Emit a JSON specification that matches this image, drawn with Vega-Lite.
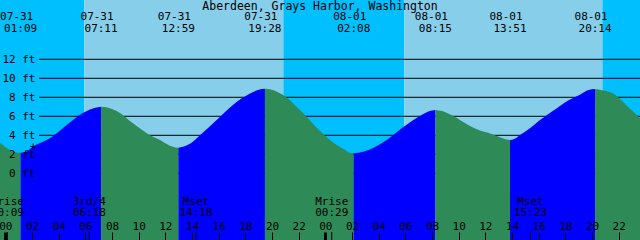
{
  "$schema": "https://vega.github.io/schema/vega-lite/v6.json",
  "width": 640,
  "height": 240,
  "autosize": {"type": "none"},
  "padding": 0,
  "background": "#ffffff",
  "config": {
    "view": {"stroke": null},
    "text": {"font": "DejaVu Sans Mono", "fontSize": 11, "color": "#000000", "baseline": "middle"},
    "axis": {"labelFont": "DejaVu Sans Mono", "labelFontSize": 11, "labelColor": "#000000", "labelOverlap": false, "labelBound": false, "labelFlush": false}
  },
  "datasets": {
    "sky": [
      {"start": -1, "end": 5.92, "sky": "night"},
      {"start": 5.92, "end": 20.85, "sky": "day"},
      {"start": 20.85, "end": 29.93, "sky": "night"},
      {"start": 29.93, "end": 44.78, "sky": "day"},
      {"start": 44.78, "end": 49, "sky": "night"}
    ],
    "levels": [{"ft": 0}, {"ft": 2}, {"ft": 4}, {"ft": 6}, {"ft": 8}, {"ft": 10}, {"ft": 12}],
    "tide": [
      {"t": -0.67, "ft": 3.45, "seg": 1, "dir": "fall"},
      {"t": -0.4, "ft": 3.2, "seg": 1, "dir": "fall"},
      {"t": 0.35, "ft": 2.45, "seg": 1, "dir": "fall"},
      {"t": 0.83, "ft": 2.2, "seg": 1, "dir": "fall"},
      {"t": 1.15, "ft": 2.17, "seg": 1, "dir": "fall"},
      {"t": 1.15, "ft": 2.17, "seg": 2, "dir": "rise"},
      {"t": 1.5, "ft": 2.25, "seg": 2, "dir": "rise"},
      {"t": 2.07, "ft": 2.8, "seg": 2, "dir": "rise"},
      {"t": 3.35, "ft": 3.68, "seg": 2, "dir": "rise"},
      {"t": 4.6, "ft": 5.08, "seg": 2, "dir": "rise"},
      {"t": 5.85, "ft": 6.38, "seg": 2, "dir": "rise"},
      {"t": 6.75, "ft": 6.9, "seg": 2, "dir": "rise"},
      {"t": 7.18, "ft": 7.0, "seg": 2, "dir": "rise"},
      {"t": 7.18, "ft": 7.0, "seg": 3, "dir": "fall"},
      {"t": 7.67, "ft": 6.92, "seg": 3, "dir": "fall"},
      {"t": 8.35, "ft": 6.56, "seg": 3, "dir": "fall"},
      {"t": 9.58, "ft": 5.26, "seg": 3, "dir": "fall"},
      {"t": 10.85, "ft": 4.0, "seg": 3, "dir": "fall"},
      {"t": 11.6, "ft": 3.5, "seg": 3, "dir": "fall"},
      {"t": 12.35, "ft": 2.9, "seg": 3, "dir": "fall"},
      {"t": 12.75, "ft": 2.72, "seg": 3, "dir": "fall"},
      {"t": 12.98, "ft": 2.7, "seg": 3, "dir": "fall"},
      {"t": 12.98, "ft": 2.7, "seg": 4, "dir": "rise"},
      {"t": 13.33, "ft": 2.8, "seg": 4, "dir": "rise"},
      {"t": 13.85, "ft": 3.1, "seg": 4, "dir": "rise"},
      {"t": 14.6, "ft": 4.0, "seg": 4, "dir": "rise"},
      {"t": 15.85, "ft": 5.6, "seg": 4, "dir": "rise"},
      {"t": 17.07, "ft": 7.2, "seg": 4, "dir": "rise"},
      {"t": 18.35, "ft": 8.4, "seg": 4, "dir": "rise"},
      {"t": 19.0, "ft": 8.8, "seg": 4, "dir": "rise"},
      {"t": 19.47, "ft": 8.9, "seg": 4, "dir": "rise"},
      {"t": 19.47, "ft": 8.9, "seg": 5, "dir": "fall"},
      {"t": 20.0, "ft": 8.8, "seg": 5, "dir": "fall"},
      {"t": 20.83, "ft": 8.24, "seg": 5, "dir": "fall"},
      {"t": 22.1, "ft": 6.66, "seg": 5, "dir": "fall"},
      {"t": 23.6, "ft": 4.45, "seg": 5, "dir": "fall"},
      {"t": 24.85, "ft": 2.98, "seg": 5, "dir": "fall"},
      {"t": 25.5, "ft": 2.45, "seg": 5, "dir": "fall"},
      {"t": 25.83, "ft": 2.15, "seg": 5, "dir": "fall"},
      {"t": 26.13, "ft": 2.1, "seg": 5, "dir": "fall"},
      {"t": 26.13, "ft": 2.1, "seg": 6, "dir": "rise"},
      {"t": 26.5, "ft": 2.17, "seg": 6, "dir": "rise"},
      {"t": 27.35, "ft": 2.5, "seg": 6, "dir": "rise"},
      {"t": 28.6, "ft": 3.5, "seg": 6, "dir": "rise"},
      {"t": 29.83, "ft": 4.84, "seg": 6, "dir": "rise"},
      {"t": 31.1, "ft": 6.03, "seg": 6, "dir": "rise"},
      {"t": 31.83, "ft": 6.55, "seg": 6, "dir": "rise"},
      {"t": 32.25, "ft": 6.66, "seg": 6, "dir": "rise"},
      {"t": 32.25, "ft": 6.66, "seg": 7, "dir": "fall"},
      {"t": 32.75, "ft": 6.55, "seg": 7, "dir": "fall"},
      {"t": 33.58, "ft": 6.03, "seg": 7, "dir": "fall"},
      {"t": 34.85, "ft": 4.98, "seg": 7, "dir": "fall"},
      {"t": 35.6, "ft": 4.5, "seg": 7, "dir": "fall"},
      {"t": 36.35, "ft": 4.2, "seg": 7, "dir": "fall"},
      {"t": 37.1, "ft": 3.8, "seg": 7, "dir": "fall"},
      {"t": 37.58, "ft": 3.55, "seg": 7, "dir": "fall"},
      {"t": 37.85, "ft": 3.5, "seg": 7, "dir": "fall"},
      {"t": 37.85, "ft": 3.5, "seg": 8, "dir": "rise"},
      {"t": 38.17, "ft": 3.6, "seg": 8, "dir": "rise"},
      {"t": 38.6, "ft": 4.03, "seg": 8, "dir": "rise"},
      {"t": 39.35, "ft": 4.73, "seg": 8, "dir": "rise"},
      {"t": 40.1, "ft": 5.6, "seg": 8, "dir": "rise"},
      {"t": 41.0, "ft": 6.5, "seg": 8, "dir": "rise"},
      {"t": 42.25, "ft": 7.7, "seg": 8, "dir": "rise"},
      {"t": 43.12, "ft": 8.3, "seg": 8, "dir": "rise"},
      {"t": 43.75, "ft": 8.78, "seg": 8, "dir": "rise"},
      {"t": 44.23, "ft": 8.87, "seg": 8, "dir": "rise"},
      {"t": 44.23, "ft": 8.87, "seg": 9, "dir": "fall"},
      {"t": 44.75, "ft": 8.75, "seg": 9, "dir": "fall"},
      {"t": 45.58, "ft": 8.4, "seg": 9, "dir": "fall"},
      {"t": 46.85, "ft": 6.8, "seg": 9, "dir": "fall"},
      {"t": 47.6, "ft": 5.8, "seg": 9, "dir": "fall"},
      {"t": 47.83, "ft": 5.45, "seg": 9, "dir": "fall"}
    ],
    "extremes": [
      {"t": 1.15, "date": "07-31", "time": "01:09"},
      {"t": 7.18, "date": "07-31", "time": "07:11"},
      {"t": 12.98, "date": "07-31", "time": "12:59"},
      {"t": 19.47, "date": "07-31", "time": "19:28"},
      {"t": 26.13, "date": "08-01", "time": "02:08"},
      {"t": 32.25, "date": "08-01", "time": "08:15"},
      {"t": 37.85, "date": "08-01", "time": "13:51"},
      {"t": 44.23, "date": "08-01", "time": "20:14"}
    ],
    "moon": [
      {"t": 0.15, "event": "Mrise", "time": "00:09"},
      {"t": 6.3, "event": "3rd/4", "time": "06:18"},
      {"t": 14.3, "event": "Mset", "time": "14:18"},
      {"t": 24.48, "event": "Mrise", "time": "00:29"},
      {"t": 39.38, "event": "Mset", "time": "15:23"}
    ],
    "marker": [{"t": 2.1, "ft": 2.8}],
    "station": [{"name": "Aberdeen, Grays Harbor, Washington"}]
  },
  "layer": [
    {
      "data": {"name": "sky"},
      "mark": {"type": "rect", "clip": true},
      "encoding": {
        "x": {
          "field": "start", "type": "quantitative",
          "scale": {"domain": [-0.4, 47.6], "nice": false, "zero": false},
          "axis": {
            "orient": "bottom", "offset": -8, "title": null,
            "values": [0, 2, 4, 6, 8, 10, 12, 14, 16, 18, 20, 22, 24, 26, 28, 30, 32, 34, 36, 38, 40, 42, 44, 46],
            "tickCount": 100,
            "labelExpr": "(datum.value % 24 < 10 ? '0' : '') + (datum.value % 24)",
            "domain": false, "grid": false,
            "ticks": true, "tickSize": 8, "tickColor": "#000000",
            "tickWidth": {"condition": {"test": "datum.value % 24 === 0", "value": 3}, "value": 1},
            "labelBaseline": "middle", "labelPadding": -14,
            "labelFlush": false, "labelOverlap": false, "labelBound": false, "zindex": 1
          }
        },
        "x2": {"field": "end"},
        "color": {
          "field": "sky", "type": "nominal",
          "scale": {"domain": ["night", "day", "rise", "fall"], "range": ["#00BFFF", "#87CEEB", "#0000FF", "#2E8B57"]},
          "legend": null
        }
      }
    },
    {
      "data": {"name": "levels"},
      "mark": {"type": "rule", "color": "#000000", "strokeWidth": 1},
      "encoding": {
        "x": {"datum": 2.53, "type": "quantitative"},
        "x2": {"datum": 47.6},
        "y": {
          "field": "ft", "type": "quantitative",
          "scale": {"domain": [-7.02, 18.24], "nice": false, "zero": false},
          "axis": {
            "orient": "left", "offset": -39, "title": null,
            "values": [0, 2, 4, 6, 8, 10, 12],
            "tickCount": 100,
            "labelExpr": "datum.value + ' ft'",
            "domain": false, "ticks": false, "tickSize": 0, "grid": false,
            "labelPadding": 4, "labelAlign": "right", "labelBaseline": "middle",
            "labelOverlap": false, "labelBound": false, "zindex": 1
          }
        }
      }
    },
    {
      "data": {"name": "tide"},
      "mark": {"type": "area", "interpolate": "monotone", "clip": true},
      "encoding": {
        "x": {"field": "t", "type": "quantitative"},
        "y": {"field": "ft", "type": "quantitative", "stack": null},
        "y2": {"datum": -7.1},
        "color": {"field": "dir", "type": "nominal", "legend": null},
        "detail": {"field": "seg", "type": "nominal"}
      }
    },
    {
      "mark": {"type": "rule", "color": "#5FA88E", "strokeWidth": 1},
      "encoding": {
        "x": {"datum": 2.53, "type": "quantitative"},
        "x2": {"datum": 47.6},
        "y": {"datum": 5.58, "type": "quantitative"}
      }
    },
    {
      "mark": {"type": "rule", "color": "#87CEEB", "strokeWidth": 1},
      "encoding": {
        "x": {"datum": 2.53, "type": "quantitative"},
        "x2": {"datum": 47.6},
        "y": {"datum": 0, "type": "quantitative"}
      }
    },
    {
      "data": {"name": "marker"},
      "mark": {"type": "text", "text": "+", "align": "center"},
      "encoding": {
        "x": {"field": "t", "type": "quantitative"},
        "y": {"field": "ft", "type": "quantitative"}
      }
    },
    {
      "data": {"name": "extremes"},
      "mark": {"type": "text", "align": "center", "dx": -4},
      "encoding": {
        "x": {"field": "t", "type": "quantitative"},
        "y": {"datum": 16.45, "type": "quantitative"},
        "text": {"field": "date", "type": "nominal"}
      }
    },
    {
      "data": {"name": "extremes"},
      "mark": {"type": "text", "align": "center"},
      "encoding": {
        "x": {"field": "t", "type": "quantitative"},
        "y": {"datum": 15.19, "type": "quantitative"},
        "text": {"field": "time", "type": "nominal"}
      }
    },
    {
      "data": {"name": "moon"},
      "mark": {"type": "text", "align": "center"},
      "encoding": {
        "x": {"field": "t", "type": "quantitative"},
        "y": {"datum": -3.05, "type": "quantitative"},
        "text": {"field": "event", "type": "nominal"}
      }
    },
    {
      "data": {"name": "moon"},
      "mark": {"type": "text", "align": "center"},
      "encoding": {
        "x": {"field": "t", "type": "quantitative"},
        "y": {"datum": -4.21, "type": "quantitative"},
        "text": {"field": "time", "type": "nominal"}
      }
    },
    {
      "data": {"name": "moon"},
      "mark": {"type": "rule", "color": "#000000", "strokeWidth": 1},
      "encoding": {
        "x": {"field": "t", "type": "quantitative"},
        "y": {"datum": -6.18, "type": "quantitative"},
        "y2": {"datum": -7.1}
      }
    },
    {
      "data": {"name": "station"},
      "mark": {"type": "text", "align": "center", "fontSize": 11.5},
      "encoding": {
        "x": {"datum": 23.6, "type": "quantitative"},
        "y": {"datum": 17.55, "type": "quantitative"},
        "text": {"field": "name", "type": "nominal"}
      }
    }
  ]
}
